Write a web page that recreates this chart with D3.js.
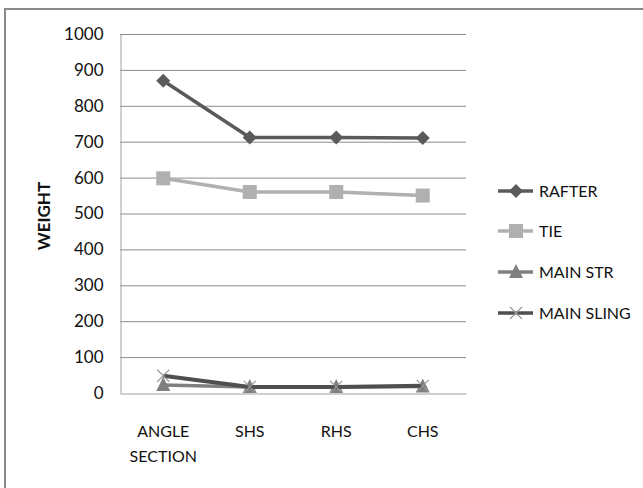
<!DOCTYPE html>
<html><head><meta charset="utf-8">
<script src="https://cdn.jsdelivr.net/npm/d3@7"></script>
<style>body{margin:0;background:#fff;} svg{display:block;font-family:Lato,"Open Sans",sans-serif;}</style>
</head><body><svg id="c" width="643" height="488"></svg>
<script>
const categories = ["ANGLE SECTION","SHS","RHS","CHS"];
const seriesNames = ["RAFTER","TIE","MAIN STR","MAIN SLING"];
const rafter = [870, 712, 712, 710];
const tie = [598, 560, 560, 550];
const mainStr = [22, 17, 17, 18];
const mainSling = [48, 17, 17, 20];
const yTicks = [0,100,200,300,400,500,600,700,800,900,1000];

(function(){
const series = [
  {name: seriesNames[0], values: rafter, color: "#5a5a5a", marker: "diamond"},
  {name: seriesNames[1], values: tie, color: "#b0b0b0", marker: "square"},
  {name: seriesNames[2], values: mainStr, color: "#808080", marker: "triangle"},
  {name: seriesNames[3], values: mainSling, color: "#4f4f4f", marker: "x"}
];

const svg = d3.select("#c");
svg.append("rect").attr("x",5).attr("y",9).attr("width",645).attr("height",490)
  .attr("fill","none").attr("stroke","#888").attr("stroke-width",2);

const pL=120, pR=466, pT=34, pB=393;
const x = d3.scaleBand().domain(categories).range([pL,pR]);
const y = d3.scaleLinear().domain([0,1000]).range([pB,pT]);

svg.append("g").selectAll("line").data(yTicks.filter(d=>d>0)).join("line")
  .attr("x1",pL).attr("x2",pR).attr("y1",d=>y(d)+0.5).attr("y2",d=>y(d)+0.5)
  .attr("stroke","#8c8c8c").attr("stroke-width",1);

const yAxis = svg.append("g").attr("transform",`translate(${pL+0.5},0)`)
  .call(d3.axisLeft(y).tickValues(yTicks).tickFormat(d3.format("d")).tickSize(0).tickPadding(17));
yAxis.attr("font-size",17).attr("font-family",null);
yAxis.select(".domain").attr("stroke","#a0a0a0");
yAxis.selectAll("text").attr("fill","#111");

const xAxis = svg.append("g").attr("transform",`translate(0,${pB+0.5})`)
  .call(d3.axisBottom(x).tickSize(0).tickFormat(""));
xAxis.select(".domain").attr("stroke","#a0a0a0");
const xl = svg.append("g").selectAll("text").data(categories).join("text")
  .attr("x",d=>x(d)+x.bandwidth()/2).attr("y",437).attr("text-anchor","middle")
  .attr("font-size",16).attr("fill","#111");
xl.each(function(d){
  const words = d.split(" ");
  const t = d3.select(this);
  words.forEach((w,i)=>t.append("tspan").attr("x",x(d)+x.bandwidth()/2).attr("dy",i?25:0).text(w));
});

svg.append("text").attr("transform","translate(50,216) rotate(-90)").attr("text-anchor","middle")
  .attr("font-size",17).attr("font-weight","bold").attr("fill","#111").text("WEIGHT");

const line = d3.line().x((d,i)=>x(categories[i])+x.bandwidth()/2).y(d=>y(d));

function marker(g, type, cx, cy, color){
  if(type==="diamond"){
    g.append("path").attr("d",`M${cx},${cy-7}L${cx+7},${cy}L${cx},${cy+7}L${cx-7},${cy}Z`).attr("fill",color);
  } else if(type==="square"){
    g.append("rect").attr("x",cx-7).attr("y",cy-7).attr("width",14).attr("height",14).attr("fill",color);
  } else if(type==="triangle"){
    g.append("path").attr("d",`M${cx},${cy-8}L${cx+7},${cy+6}L${cx-7},${cy+6}Z`).attr("fill",color);
  } else {
    g.append("path").attr("d",`M${cx-6},${cy-6}L${cx+6},${cy+6}M${cx+6},${cy-6}L${cx-6},${cy+6}`)
      .attr("stroke","#9a9a9a").attr("stroke-width",1.2);
  }
}

const order = [2,3,1,0];
order.forEach(si=>{
  const s = series[si];
  const g = svg.append("g");
  g.append("path").datum(s.values).attr("d",line).attr("fill","none")
    .attr("stroke",s.color).attr("stroke-width",s.marker==="x"?4:3.5);
  s.values.forEach((v,i)=>marker(g,s.marker,x(categories[i])+x.bandwidth()/2,y(v),s.color));
});

const legY = [191, 231, 272, 313];
series.forEach((s,i)=>{
  const g = svg.append("g");
  g.append("line").attr("x1",498).attr("x2",533).attr("y1",legY[i]).attr("y2",legY[i])
    .attr("stroke",s.color).attr("stroke-width",3.5);
  marker(g,s.marker,516,legY[i],s.color);
  g.append("text").attr("x",539).attr("y",legY[i]+6).attr("font-size",16).attr("fill","#111").text(s.name);
});
})();
</script></body></html>
